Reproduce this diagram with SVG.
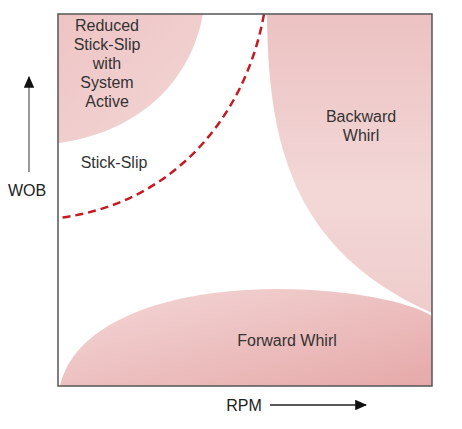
<svg xmlns="http://www.w3.org/2000/svg" width="462" height="429" viewBox="0 0 462 429">
<style>
text{font-family:"Liberation Sans",Arial,sans-serif;font-size:16px;fill:#333;text-anchor:middle}
.ax{fill:#222}
</style>
<defs>
<linearGradient id="gTL" x1="0" y1="0" x2="1" y2="1">
<stop offset="0" stop-color="#eec4c4"/><stop offset="1" stop-color="#f3d6d6"/>
</linearGradient>
<linearGradient id="gBW" x1="0" y1="0" x2="0" y2="1">
<stop offset="0" stop-color="#ecc2c2"/><stop offset="0.6" stop-color="#f3d7d7"/><stop offset="1" stop-color="#efcccc"/>
</linearGradient>
<linearGradient id="gFW" x1="0" y1="0" x2="1" y2="1">
<stop offset="0" stop-color="#f4d8d8"/><stop offset="1" stop-color="#e6a9a9"/>
</linearGradient>
<marker id="ah" viewBox="0 0 10 10" refX="9" refY="5" markerWidth="8" markerHeight="7" orient="auto" preserveAspectRatio="none">
<path d="M0,0 L10,5 L0,10 Z" fill="#111"/>
</marker>
</defs>
<rect x="0" y="0" width="462" height="429" fill="#fff"/>
<g id="reduced-stick-slip">
<path d="M58,14 L203,14 C 190,85 135,133 58,143 Z" fill="url(#gTL)"/>
<text x="107" y="31">Reduced</text>
<text x="107" y="50">Stick-Slip</text>
<text x="107" y="69">with</text>
<text x="107" y="88">System</text>
<text x="107" y="107">Active</text>
</g>
<g id="backward-whirl">
<path d="M267,14 C 268,140 290,250 432,313 L432,14 Z" fill="url(#gBW)"/>
<text x="361" y="122">Backward</text>
<text x="361" y="141">Whirl</text>
</g>
<g id="forward-whirl">
<path d="M60,386 C 72,330 150,290 275,289 C 350,289 410,302 432,316 L432,386 Z" fill="url(#gFW)"/>
<text x="287" y="346">Forward Whirl</text>
</g>
<g id="stick-slip">
<text x="114" y="168">Stick-Slip</text>
</g>
<g id="connectors">
<path d="M264,14 C 245,120 170,205 58,218" fill="none" stroke="#c41a22" stroke-width="2.5" stroke-dasharray="8,5"/>
<line x1="270" y1="405" x2="366" y2="405" stroke="#222" stroke-width="1.5" marker-end="url(#ah)"/>
<line x1="29" y1="172" x2="29" y2="77" stroke="#777" stroke-width="1.5" marker-end="url(#ah)"/>
</g>
<rect x="58" y="14" width="374" height="372" fill="none" stroke="#555" stroke-width="1.5"/>
<g id="axis-labels">
<text class="ax" x="244" y="411">RPM</text>
<text class="ax" x="27" y="196">WOB</text>
</g>
</svg>
